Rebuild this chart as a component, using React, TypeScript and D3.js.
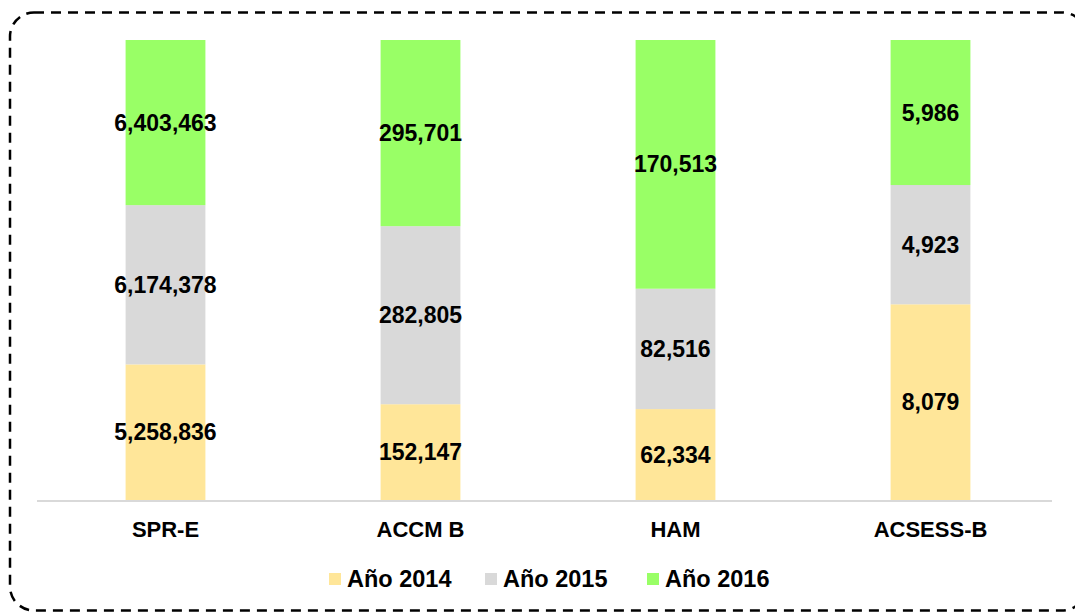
import { useRef, useEffect } from 'react';
import * as d3 from 'd3';

const categories = ['SPR-E', 'ACCM B', 'HAM', 'ACSESS-B'];
const years = ['Año 2014', 'Año 2015', 'Año 2016'];
const v2014 = [5258836, 152147, 62334, 8079];
const v2015 = [6174378, 282805, 82516, 4923];
const v2016 = [6403463, 295701, 170513, 5986];
const colors = ['#FFE699', '#D9D9D9', '#99FF66'];

const W = 1075;
const H = 613;
const FONT = '"Liberation Sans", Arial, sans-serif';

export default function App() {
  const svgRef = useRef<SVGSVGElement | null>(null);

  useEffect(() => {
    const svg = d3.select(svgRef.current);
    svg.selectAll('*').remove();

    const m = { top: 40, right: 17, bottom: 113, left: 38 };
    const x = d3.scaleBand<string>().domain(categories)
      .range([m.left, W - m.right]).paddingInner(0.687).paddingOuter(0.3435);
    const y = d3.scaleLinear().domain([0, 1]).range([H - m.bottom, m.top]);

    // border
    svg.append('rect').attr('x', 10).attr('y', 12.5).attr('width', 1076).attr('height', 598)
      .attr('rx', 24).attr('fill', 'none').attr('stroke', '#000')
      .attr('stroke-width', 2.5).attr('stroke-dasharray', '10,7');

    const rows = categories.map((c, i) => ({ cat: c, a: v2014[i], b: v2015[i], c2: v2016[i] }));
    const keys = ['a', 'b', 'c2'];
    const stack = d3.stack<any>().keys(keys).offset(d3.stackOffsetExpand);
    const series = stack(rows);

    const g = svg.append('g');
    series.forEach((s, si) => {
      s.forEach((d: any) => {
        const x0 = x(d.data.cat)!;
        g.append('rect').attr('x', x0).attr('width', x.bandwidth())
          .attr('y', y(d[1])).attr('height', y(d[0]) - y(d[1]))
          .attr('fill', colors[si]);
        g.append('text').attr('x', x0 + x.bandwidth() / 2)
          .attr('y', (y(d[0]) + y(d[1])) / 2).attr('dy', '0.35em')
          .attr('text-anchor', 'middle').attr('font-family', FONT)
          .attr('font-weight', 'bold').attr('font-size', 23).attr('fill', '#000')
          .text(d3.format(',')(d.data[keys[si]]));
      });
    });

    // baseline axis
    svg.append('line').attr('x1', 37).attr('x2', 1052)
      .attr('y1', y(0) + 1).attr('y2', y(0) + 1)
      .attr('stroke', '#D9D9D9').attr('stroke-width', 2);

    categories.forEach(c => {
      svg.append('text').attr('x', x(c)! + x.bandwidth() / 2).attr('y', 537)
        .attr('text-anchor', 'middle').attr('font-family', FONT)
        .attr('font-weight', 'bold').attr('font-size', 22).attr('fill', '#000').text(c);
    });

    // legend
    const legX = [329, 485, 647];
    years.forEach((yr, i) => {
      svg.append('rect').attr('x', legX[i]).attr('y', 573).attr('width', 12).attr('height', 12)
        .attr('fill', colors[i]);
      svg.append('text').attr('x', legX[i] + 18).attr('y', 587)
        .attr('font-family', FONT).attr('font-weight', 'bold').attr('font-size', 23.5)
        .attr('fill', '#000').text(yr);
    });
  }, []);

  return (
    <div style={{ position: 'fixed', left: 0, top: 0, width: W, height: H, background: '#fff' }}>
      <svg ref={svgRef} width={W} height={H} />
    </div>
  );
}
